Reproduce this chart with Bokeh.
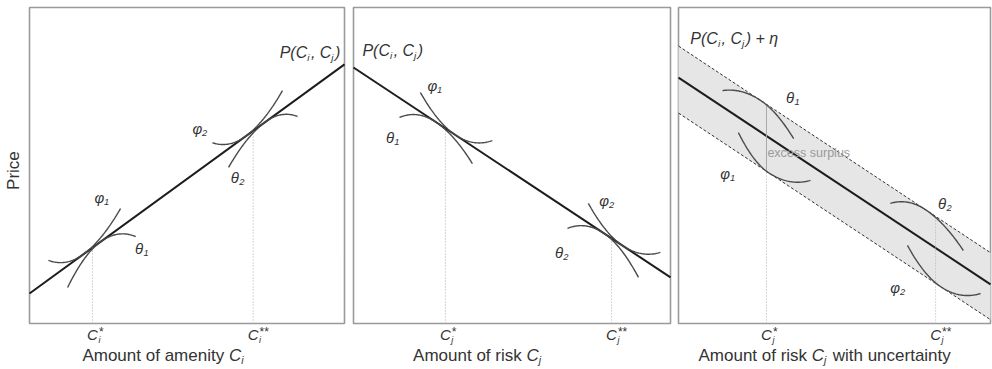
import numpy as np
from bokeh.plotting import figure
from bokeh.models import Label, Range1d
from bokeh.layouts import row
from bokeh.embed import file_html
from bokeh.resources import INLINE

# ---------------- data (panel units 0..10) ----------------
# Panel 1: amenity, upward hedonic price line  y = a + s*x
p1_a, p1_s = 0.95, 0.725
p1_ticks = [2.0, 7.1]
p1_tick_sup = ["*", "**"]
# curves: (x_start, y_start, x_tangent, x_end, y_end)
p1_curves = [
    (0.60, 2.00, 1.71, 2.89, 3.64),
    (1.21, 1.14, 2.25, 3.37, 2.75),
    (5.81, 5.72, 6.86, 8.03, 7.37),
    (6.32, 4.94, 7.49, 8.51, 6.55),
]
p1_greek = [("φ", "1", 2.32, 3.99), ("θ", "1", 3.59, 2.37),
            ("φ", "2", 5.43, 6.17), ("θ", "2", 6.63, 4.62)]

# Panel 2: risk, downward price line
p2_a, p2_s = 8.10, -0.664
p2_ticks = [2.90, 8.14]
p2_tick_sup = ["*", "**"]
p2_curves = [
    (1.45, 6.52, 2.59, 3.75, 5.06),
    (2.11, 7.31, 3.22, 4.38, 5.79),
    (6.75, 3.01, 7.89, 8.99, 1.46),
    (7.41, 3.80, 8.49, 9.68, 2.25),
]
p2_greek = [("φ", "1", 2.59, 7.53), ("θ", "1", 1.26, 5.89),
            ("φ", "2", 8.01, 3.89), ("θ", "2", 6.59, 2.25)]

# Panel 3: risk with uncertainty band
p3_a, p3_s = 7.78, -0.654
p3_up, p3_lo = 1.00, -1.12
p3_ticks = [2.82, 8.24]
p3_tick_sup = ["*", "**"]
p3_curves_up = [
    (1.41, 7.37, 2.63, 3.69, 5.85),
    (6.79, 3.80, 7.92, 9.13, 2.31),
]
p3_curves_lo = [
    (1.92, 6.04, 2.88, 4.23, 4.53),
    (7.34, 2.47, 8.40, 9.68, 0.95),
]
p3_greek = [("θ", "1", 3.69, 7.15), ("φ", "1", 1.60, 4.75),
            ("θ", "2", 8.56, 3.80), ("φ", "2", 7.05, 1.14)]

FONT = "Liberation Sans"
NBSP = "\u00a0"
W = {' ': 278, NBSP: 278, '(': 333, ')': 333, ',': 278, '+': 584, 'P': 667, 'C': 722,
     'i': 222, 'j': 222, '*': 389, 'η': 556, '1': 556, '2': 556, 'φ': 640,
     'θ': 556, 'A': 667, 'm': 833, 'o': 556, 'u': 556, 'n': 556, 't': 278,
     'f': 278, 'a': 556, 'e': 556, 'y': 500, 'r': 333, 's': 500, 'k': 500,
     'w': 722, 'h': 556, 'c': 500}


def tw(s, fs):
    return sum(W.get(c, 556) for c in s) * fs / 1000.0


def rich(p, x, y, parts, fs, color="#222222", align="left", start=0.0):
    sizes, total = [], 0.0
    for t, role, style in parts:
        f = fs if role == "n" else fs * 0.62
        w = tw(t, f) + (1.5 if role != "n" else 0.0)
        sizes.append((f, w))
        total += w
    off = start
    if align == "center":
        off = -total / 2
    elif align == "right":
        off = -total
    for (t, role, style), (f, w) in zip(parts, sizes):
        yo = 0 if role == "n" else (-fs * 0.30 if role == "sub" else fs * 0.30)
        p.add_layout(Label(x=x, y=y, x_offset=off, y_offset=yo, text=t,
                           text_font=FONT, text_font_size=f"{f:.1f}px",
                           text_font_style=style, text_color=color,
                           text_baseline="middle", text_align="left"))
        off += w


def curve(a, s, c):
    xa, ya, x0, xb, yb = c
    L = lambda x: a + s * x
    kl = (ya - L(xa)) / (xa - x0) ** 2
    kr = (yb - L(xb)) / (xb - x0) ** 2
    xs = np.linspace(xa, xb, 80)
    dx = xs - x0
    ys = L(xs) + np.where(dx < 0, kl, kr) * dx ** 2
    return xs, ys


TOP, BOTTOM, FRAME_H = 7, 46, 316


def make_fig(left, frame_w, right):
    ux = frame_w / 10.0
    uy = FRAME_H / 10.0
    p = figure(width=left + frame_w + right, height=TOP + FRAME_H + BOTTOM,
               x_range=Range1d(-left / ux, 10 + right / ux),
               y_range=Range1d(-BOTTOM / uy, 10 + TOP / uy),
               x_axis_location=None, y_axis_location=None, toolbar_location=None,
               output_backend="svg", min_border=0)
    p.grid.visible = False
    p.outline_line_color = None
    p.background_fill_color = "white"
    p.border_fill_color = "white"
    p.quad(left=[0], right=[10], bottom=[0], top=[10], fill_color=None,
           line_color="#9a9a9a", line_width=1.6)
    return p


LINE_C = "#1c1c1c"
CURVE_C = "#4a4a4a"
DOT_C = "#b0b0b0"
TXT_C = "#333333"


def add_ticks(p, ticks, sub, sups):
    fs = 15
    cw = tw("C", fs)
    for t, sp in zip(ticks, sups):
        for txt, f, xo, yo, style in [("C", fs, -cw / 2, 0, "italic"),
                                      (sub, fs * 0.6, cw / 2 + 0.5, -fs * 0.32, "italic"),
                                      (sp, fs * 0.8, cw / 2 + 1.0, fs * 0.22, "normal")]:
            p.add_layout(Label(x=t, y=-0.36, x_offset=xo, y_offset=yo, text=txt,
                               text_font=FONT, text_font_size=f"{f:.1f}px",
                               text_font_style=style, text_color=TXT_C,
                               text_baseline="middle", text_align="left"))


def add_greek(p, greek):
    for g, n, x, y in greek:
        rich(p, x, y, [(g, "n", "italic"), (n, "sub", "italic")], 15, color=TXT_C, align="center")


# ---------------- panel 1 ----------------
p1 = make_fig(29, 315, 4)
p1.line([0, 10], [p1_a, p1_a + p1_s * 10], line_color=LINE_C, line_width=2)
for t in p1_ticks:
    p1.line([t, t], [0, p1_a + p1_s * t], line_color=DOT_C, line_dash="1 2", line_width=1)
for c in p1_curves:
    xs, ys = curve(p1_a, p1_s, c)
    p1.line(xs, ys, line_color=CURVE_C, line_width=1.4)
add_greek(p1, p1_greek)
rich(p1, 9.87, 8.58, [("P(C", "n", "italic"), ("i", "sub", "italic"), (",", "n", "italic"),
                      (NBSP + "C", "n", "italic"), ("j", "sub", "italic"), (")", "n", "italic")],
     16, color=TXT_C, align="right")
add_ticks(p1, p1_ticks, "i", p1_tick_sup)
rich(p1, 1.68, -1.0, [("Amount of amenity" + NBSP, "n", "normal"), ("C", "n", "italic"),
                      ("i", "sub", "italic")], 17, color=TXT_C)
p1.add_layout(Label(x=-0.51, y=4.84, text="Price", angle=np.pi / 2, text_font=FONT,
                    text_font_size="17px", text_color=TXT_C, text_align="center",
                    text_baseline="middle"))

# ---------------- panel 2 ----------------
p2 = make_fig(5, 317, 4)
p2.line([0, 10], [p2_a, p2_a + p2_s * 10], line_color=LINE_C, line_width=2)
for t in p2_ticks:
    p2.line([t, t], [0, p2_a + p2_s * t], line_color=DOT_C, line_dash="1 2", line_width=1)
for c in p2_curves:
    xs, ys = curve(p2_a, p2_s, c)
    p2.line(xs, ys, line_color=CURVE_C, line_width=1.4)
add_greek(p2, p2_greek)
rich(p2, 0.28, 8.64, [("P(C", "n", "italic"), ("i", "sub", "italic"), (",", "n", "italic"),
                      (NBSP + "C", "n", "italic"), ("j", "sub", "italic"), (")", "n", "italic")],
     16, color=TXT_C)
add_ticks(p2, p2_ticks, "j", p2_tick_sup)
rich(p2, 1.88, -1.0, [("Amount of risk" + NBSP, "n", "normal"), ("C", "n", "italic"),
                      ("j", "sub", "italic")], 17, color=TXT_C)

# ---------------- panel 3 ----------------
p3 = make_fig(4, 312, 2)
bx = np.array([0.0, 10.0])
p3.varea(x=bx, y1=p3_a + p3_lo + p3_s * bx, y2=p3_a + p3_up + p3_s * bx, fill_color="#e6e6e6")
p3.line(bx, p3_a + p3_up + p3_s * bx, line_color="#333333", line_dash="3 2", line_width=1)
p3.line(bx, p3_a + p3_lo + p3_s * bx, line_color="#333333", line_dash="3 2", line_width=1)
p3.line(bx, p3_a + p3_s * bx, line_color=LINE_C, line_width=2)
t1, t2 = p3_ticks
p3.line([t1, t1], [0, p3_a + p3_lo + p3_s * t1], line_color=DOT_C, line_dash="1 2", line_width=1)
p3.line([t1, t1], [p3_a + p3_lo + p3_s * t1, p3_a + p3_up + p3_s * t1], line_color="#a8a8a8", line_width=1)
p3.line([t2, t2], [0, p3_a + p3_up + p3_s * t2], line_color=DOT_C, line_dash="1 2", line_width=1)
for c in p3_curves_up:
    xs, ys = curve(p3_a + p3_up, p3_s, c)
    p3.line(xs, ys, line_color=CURVE_C, line_width=1.4)
for c in p3_curves_lo:
    xs, ys = curve(p3_a + p3_lo, p3_s, c)
    p3.line(xs, ys, line_color=CURVE_C, line_width=1.4)
add_greek(p3, p3_greek)
p3.add_layout(Label(x=2.85, y=5.38, text="excess surplus", text_font=FONT, text_font_size="12.5px",
                    text_color="#9a9a9a", text_baseline="middle"))
rich(p3, 0.38, 9.02, [("P(C", "n", "italic"), ("i", "sub", "italic"), (",", "n", "italic"),
                      (NBSP + "C", "n", "italic"), ("j", "sub", "italic"),
                      (")" + NBSP + "+" + NBSP + "η", "n", "italic")], 16, color=TXT_C)
add_ticks(p3, p3_ticks, "j", p3_tick_sup)
rich(p3, 0.64, -1.0, [("Amount of risk" + NBSP, "n", "normal"), ("C", "n", "italic"),
                      ("j", "sub", "italic"), (NBSP + "with uncertainty", "n", "normal")],
     17, color=TXT_C)

layout = row(p1, p2, p3)
open("out.html", "w").write(file_html(layout, INLINE))
